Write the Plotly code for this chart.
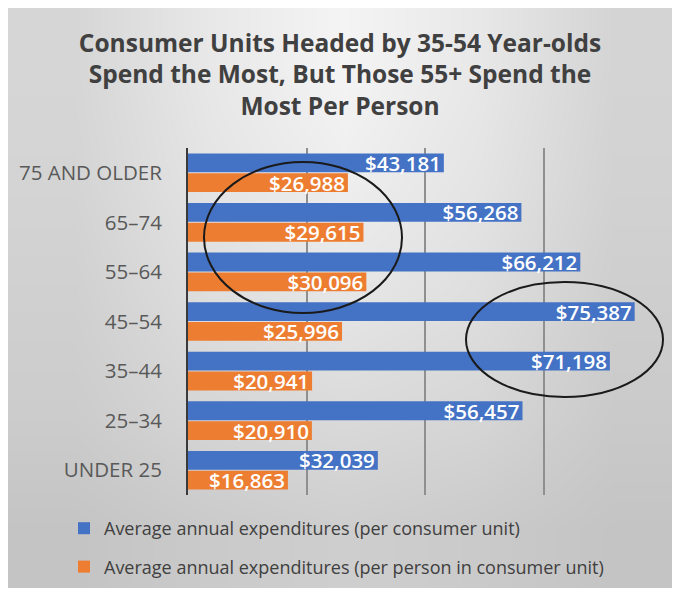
import plotly.graph_objects as go

categories = ["75 AND OLDER", "65–74", "55–64", "45–54", "35–44", "25–34", "UNDER 25"]
per_unit = [43181, 56268, 66212, 75387, 71198, 56457, 32039]
per_person = [26988, 29615, 30096, 25996, 20941, 20910, 16863]
series_names = [
    "Average annual expenditures (per consumer unit)",
    "Average annual expenditures (per person in consumer unit)",
]
title_text = ("Consumer Units Headed by 35-54 Year-olds<br>"
              "Spend the Most, But Those 55+ Spend the<br>Most Per Person")

# background gradient (gray levels), purely decorative
bg_levels = [
    [214, 232, 244, 232, 212],
    [212, 228, 238, 228, 210],
    [208, 222, 230, 222, 206],
    [204, 214, 218, 214, 202],
    [196, 202, 206, 202, 196],
]

# the page body has an 8px margin, so the figure is drawn at (8, 8)
OFF = 8
W, H = 680 - OFF, 592 - OFF


def px(x):
    return (x - OFF) / W


def py(y):
    return 1 - (y - OFF) / H


BLUE = "#4472C4"
ORANGE = "#ED7D31"
FONT = "Open Sans"

fig = go.Figure()

fig.add_trace(go.Heatmap(
    z=bg_levels, x=list(range(5)), y=list(range(5)),
    colorscale=[[0, "black"], [1, "white"]], zmin=0, zmax=255,
    zsmooth="best", showscale=False, hoverinfo="skip",
    xaxis="x", yaxis="y", showlegend=False,
))

label_font = dict(color="white", size=20.5, family=FONT, weight=600)
fig.add_trace(go.Bar(
    y=categories, x=per_unit, name=series_names[0], orientation="h",
    marker=dict(color=BLUE), legendgroup="a",
    texttemplate="$%{x:,}", textposition="inside", insidetextanchor="end",
    insidetextfont=label_font, xaxis="x2", yaxis="y2", cliponaxis=False,
))
fig.add_trace(go.Bar(
    y=categories, x=per_person, name=series_names[1], orientation="h",
    marker=dict(color=ORANGE), legendgroup="b",
    texttemplate="$%{x:,}", textposition="inside", insidetextanchor="end",
    insidetextfont=label_font, xaxis="x2", yaxis="y2", cliponaxis=False,
))

L, R, T, B = 188, 662, 148, 495
fig.update_layout(
    template="none",
    width=W, height=H,
    margin=dict(l=0, r=0, t=0, b=0, pad=0, autoexpand=False),
    paper_bgcolor="white",
    plot_bgcolor="rgba(0,0,0,0)",
    font=dict(family=FONT, color="#404040"),
    barmode="group", bargap=0.2, bargroupgap=0.05,
    uniformtext=dict(minsize=20.5, mode="show"),
    xaxis=dict(domain=[0, 1], range=[-0.5, 4.5], visible=False, fixedrange=True),
    yaxis=dict(domain=[py(588), 1], range=[4.5, -0.5], visible=False, fixedrange=True),
    xaxis2=dict(
        domain=[px(L), px(R)], anchor="y2", range=[0, 80000], dtick=20000,
        showticklabels=False, showgrid=True, gridcolor="#8f8f8f", gridwidth=1.5,
        zeroline=False, showline=False, ticks="", automargin=False,
    ),
    yaxis2=dict(
        domain=[py(B), py(T)], anchor="x2", range=[6.5, -0.5],
        type="category", showgrid=False, zeroline=False,
        showline=True, linecolor="#3a3a3a", linewidth=2,
        ticks="", ticklabelstandoff=20, automargin=False,
        tickfont=dict(size=20.5, color="#595959", family=FONT),
    ),
    title=dict(
        text=title_text, xref="container", yref="container",
        x=px(340), xanchor="center", y=1 - 43.5 / H, yanchor="top",
        font=dict(size=24.5, color="#404040", family=FONT, weight="bold"),
    ),
    legend=dict(
        xref="container", yref="container", x=px(64), y=py(510),
        xanchor="left", yanchor="top", orientation="v",
        bgcolor="rgba(0,0,0,0)", borderwidth=0,
        font=dict(size=18, color="#404040", family=FONT),
        tracegroupgap=12, itemwidth=30,
    ),
    shapes=[
        dict(type="rect", xref="paper", yref="paper",
             x0=px(80), x1=px(610), y0=py(583), y1=py(516),
             fillcolor="rgba(236,236,236,0.5)", line=dict(width=0), layer="below"),
        dict(type="circle", xref="paper", yref="paper",
             x0=px(204), x1=px(402), y0=py(313), y1=py(162),
             line=dict(color="#1a1a1a", width=2), layer="above"),
        dict(type="circle", xref="paper", yref="paper",
             x0=px(466), x1=px(663), y0=py(397), y1=py(282),
             line=dict(color="#1a1a1a", width=2), layer="above"),
    ],
)

fig.write_html("out.html")
